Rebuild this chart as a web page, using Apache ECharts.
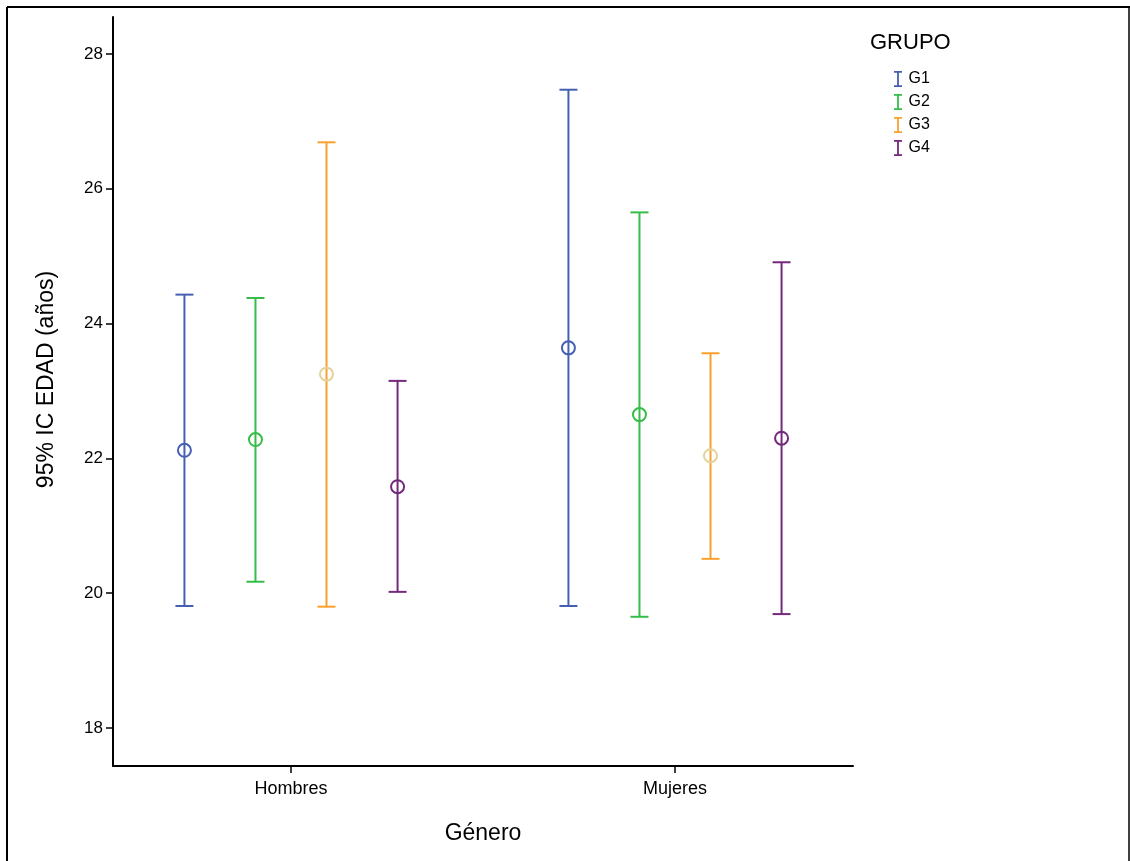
<!DOCTYPE html>
<html>
<head>
<meta charset="utf-8">
<script src="https://cdn.jsdelivr.net/npm/echarts@6/dist/echarts.min.js"></script>
<style>
  html, body { margin: 0; padding: 0; background: #fff; }
  #chart { width: 1130px; height: 861px; }
</style>
</head>
<body>
<div id="chart"></div>
<script>
const generos = ['Hombres', 'Mujeres'];
const grupos = ['G1', 'G2', 'G3', 'G4'];
const yTicks = [18, 20, 22, 24, 26, 28];

// medias e IC 95% por grupo (G1..G4)
const mediaHombres = [22.12, 22.28, 23.25, 21.58];
const infHombres = [19.81, 20.17, 19.80, 20.02];
const supHombres = [24.43, 24.38, 26.69, 23.15];

const mediaMujeres = [23.64, 22.65, 22.04, 22.30];
const infMujeres = [19.81, 19.65, 20.51, 19.69];
const supMujeres = [27.47, 25.65, 23.56, 24.91];

const colores = ['#4560b3', '#35bd48', '#f9a12c', '#74297a'];
const coloresMedia = ['#4560b3', '#35bd48', '#e2d39c', '#74297a'];

const offset = 0.185;
const iconI = 'path://M0,0H8V1.8H4.9V14.2H8V16H0V14.2H3.1V1.8H0Z';

const chart = echarts.init(document.getElementById('chart'));

const series = [];
grupos.forEach((g, i) => {
    const dx = (i - 1.5) * offset;
    const barras = [
        [1 + dx, infHombres[i], supHombres[i]],
        [2 + dx, infMujeres[i], supMujeres[i]]
    ];
    series.push({
        name: g,
        type: 'custom',
        itemStyle: { color: colores[i] },
        data: barras,
        encode: { x: 0, y: [1, 2] },
        renderItem: (params, api) => {
            const lo = api.coord([api.value(0), api.value(1)]);
            const hi = api.coord([api.value(0), api.value(2)]);
            const w = 9;
            const style = { stroke: colores[i], lineWidth: 2, fill: null };
            return {
                type: 'group',
                children: [
                    { type: 'line', shape: { x1: lo[0], y1: lo[1], x2: hi[0], y2: hi[1] }, style },
                    { type: 'line', shape: { x1: lo[0] - w, y1: lo[1], x2: lo[0] + w, y2: lo[1] }, style },
                    { type: 'line', shape: { x1: hi[0] - w, y1: hi[1], x2: hi[0] + w, y2: hi[1] }, style }
                ]
            };
        },
        z: 2
    });
    series.push({
        name: g + '_media',
        type: 'scatter',
        symbol: 'circle',
        symbolSize: 13,
        itemStyle: { color: 'rgba(255,255,255,0)', borderColor: coloresMedia[i], borderWidth: 2, opacity: 1 },
        data: [[1 + dx, mediaHombres[i]], [2 + dx, mediaMujeres[i]]],
        z: 3
    });
});

const option = {
    animation: false,
    backgroundColor: '#fff',
    title: {
        text: 'GRUPO',
        left: 865,
        top: 27,
        textStyle: { fontFamily: 'Liberation Sans', fontSize: 22, fontWeight: 'normal', color: '#000' }
    },
    legend: {
        orient: 'vertical',
        left: 889,
        top: 66,
        itemWidth: 9,
        itemHeight: 16,
        itemGap: 7,
        data: grupos.map((g, i) => ({ name: g, icon: iconI, itemStyle: { color: colores[i] } })),
        textStyle: { fontFamily: 'Liberation Sans', fontSize: 16, color: '#000', padding: [0, 0, 0, 1] }
    },
    grid: { left: 113, right: 277, top: 17, bottom: 95 },
    xAxis: {
        type: 'value',
        min: 1 - 178 / 384,
        max: 2 + 178 / 384,
        name: 'Género',
        nameLocation: 'middle',
        nameGap: 56,
        nameTextStyle: { fontFamily: 'Liberation Sans', fontSize: 23, color: '#000' },
        axisLine: { lineStyle: { color: '#000', width: 2 } },
        axisTick: { show: true, customValues: [1, 2], length: 7, lineStyle: { color: '#000', width: 1.5 } },
        axisLabel: {
            customValues: [1, 2],
            formatter: v => generos[Math.round(v) - 1],
            margin: 14,
            fontFamily: 'Liberation Sans',
            fontSize: 18,
            color: '#000'
        },
        splitLine: { show: false }
    },
    yAxis: {
        type: 'value',
        min: 18 - 38 / 67.4,
        max: 28 + 37 / 67.4,
        name: '95% IC EDAD (años)',
        nameLocation: 'middle',
        nameGap: 55,
        nameTextStyle: { fontFamily: 'Liberation Sans', fontSize: 23, color: '#000', padding: [0, 0, 0, 24] },
        axisLine: { show: true, lineStyle: { color: '#000', width: 2 } },
        axisTick: { show: true, customValues: yTicks, length: 7, lineStyle: { color: '#000', width: 1.5 } },
        axisLabel: {
            customValues: yTicks,
            margin: 10,
            fontFamily: 'Liberation Sans',
            fontSize: 17,
            color: '#000'
        },
        splitLine: { show: false }
    },
    graphic: [
        { type: 'line', shape: { x1: 7, y1: 7, x2: 1130, y2: 7 }, style: { stroke: '#000', lineWidth: 2 } },
        { type: 'line', shape: { x1: 7, y1: 7, x2: 7, y2: 861 }, style: { stroke: '#000', lineWidth: 2 } },
        { type: 'line', shape: { x1: 1129, y1: 7, x2: 1129, y2: 861 }, style: { stroke: '#000', lineWidth: 1.5 } }
    ],
    series: series
};

chart.setOption(option);
</script>
</body>
</html>
